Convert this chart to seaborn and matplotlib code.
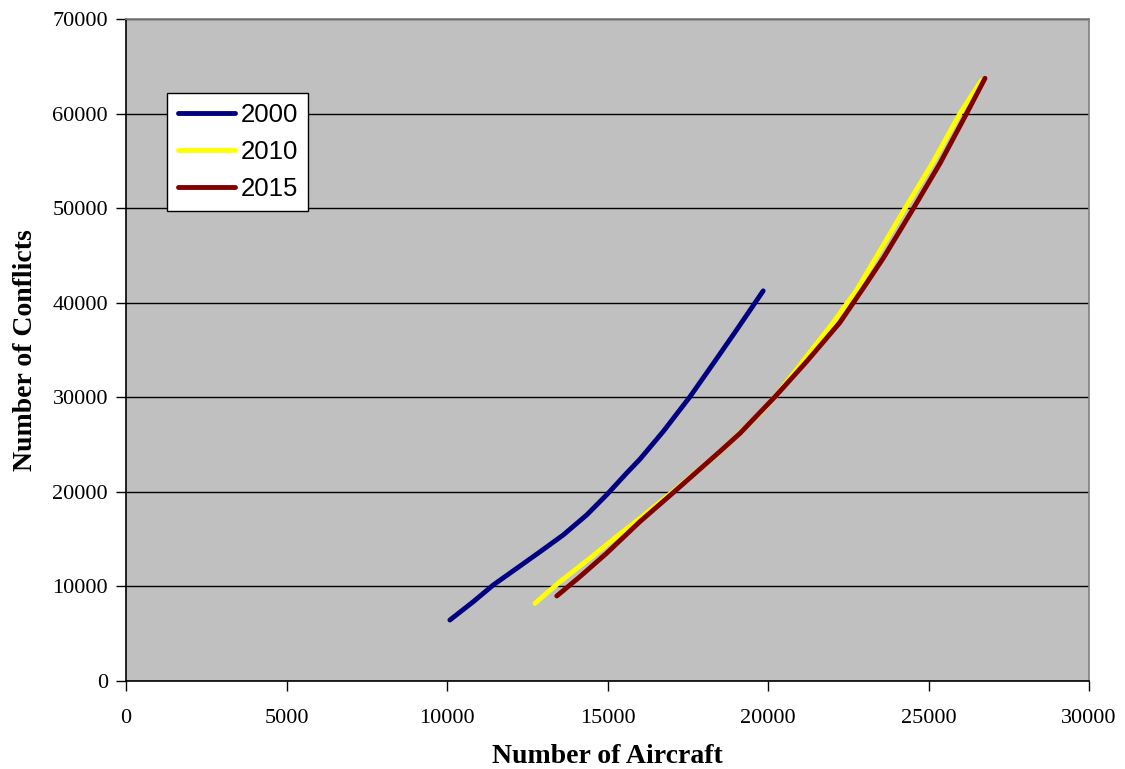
import matplotlib
matplotlib.use("Agg")
import matplotlib.pyplot as plt
import seaborn as sns
import pandas as pd

# Conflict counts against traffic volume for three forecast years
years = ["2000", "2010", "2015"]

aircraft_2000 = [10090, 10820, 11440, 12170, 12900, 13620, 14350, 14970, 15590, 16010,
                 16740, 17570, 18300, 19020, 19850]
conflicts_2000 = [6450, 8390, 10150, 11910, 13670, 15440, 17550, 19670, 21960, 23450,
                  26400, 30060, 33590, 37110, 41250]

aircraft_2010 = [12740, 13520, 14450, 15280, 16010, 17100, 18500, 19750, 20220, 21200,
                 22030, 22760, 23380, 24270, 25150, 25980, 26650]
conflicts_2010 = [8210, 10500, 12970, 15260, 17200, 20200, 24200, 28300, 30060, 34290,
                  37900, 41340, 44870, 49970, 54900, 60020, 63500]

aircraft_2015 = [13420, 14140, 14970, 16010, 16840, 18500, 19130, 20220, 21200, 22240,
                 23070, 23590, 24530, 25360, 26190, 26760]
conflicts_2015 = [8990, 11030, 13500, 16850, 19300, 24260, 26200, 30060, 33760, 37900,
                  42050, 44700, 49970, 54740, 60020, 63720]

colors = {"2000": "#000080", "2010": "#FFFF00", "2015": "#800000"}

x_ticks = [0, 5000, 10000, 15000, 20000, 25000, 30000]
y_ticks = [0, 10000, 20000, 30000, 40000, 50000, 60000, 70000]

frames = []
for yr, xs, ys in [("2000", aircraft_2000, conflicts_2000),
                   ("2010", aircraft_2010, conflicts_2010),
                   ("2015", aircraft_2015, conflicts_2015)]:
    frames.append(pd.DataFrame({"aircraft": xs, "conflicts": ys, "year": yr}))
df = pd.concat(frames, ignore_index=True)

sns.set_theme(style="white")
plt.rcParams["font.family"] = ["Liberation Serif", "DejaVu Serif"]
plt.rcParams["text.color"] = "black"
plt.rcParams["axes.labelcolor"] = "black"
plt.rcParams["xtick.color"] = "black"
plt.rcParams["ytick.color"] = "black"

fig = plt.figure(figsize=(11.25, 7.69), dpi=100)
ax = fig.add_axes([0.112, 0.1144, 0.856, 0.861])
ax.set_facecolor("#C0C0C0")

sns.lineplot(data=df, x="aircraft", y="conflicts", hue="year", hue_order=years,
             palette=colors, sort=False, estimator=None, linewidth=3.5,
             ax=ax, legend=True, solid_capstyle="round", solid_joinstyle="round")

ax.set_xlim(0, 30000)
ax.set_ylim(0, 70000)
ax.set_xticks(x_ticks)
ax.set_yticks(y_ticks)
ax.set_xticklabels([str(v) for v in x_ticks], fontsize=16)
ax.set_yticklabels([str(v) for v in y_ticks], fontsize=16)
ax.tick_params(axis="x", direction="out", length=7, width=1, pad=13, color="black", bottom=True)
ax.tick_params(axis="y", direction="out", length=7, width=1, pad=6, color="black", left=True)

ax.grid(axis="y", color="black", linewidth=1)
ax.set_axisbelow(True)

for side in ["top", "right"]:
    ax.spines[side].set_color("#808080")
    ax.spines[side].set_linewidth(1.2)
for side in ["left", "bottom"]:
    ax.spines[side].set_color("black")
    ax.spines[side].set_linewidth(1.2)

ax.set_xlabel("Number of Aircraft", fontsize=20, fontweight="bold", labelpad=12)
ax.set_ylabel("Number of Conflicts", fontsize=20, fontweight="bold", labelpad=10)

leg = ax.legend(loc="upper left", bbox_to_anchor=(0.043, 0.888), frameon=True,
                fancybox=False, framealpha=1.0,
                prop={"family": "Liberation Sans", "size": 18.5},
                handlelength=2.25, handletextpad=0.2, borderpad=0.4,
                labelspacing=0.5, borderaxespad=0)
leg.get_frame().set_facecolor("white")
leg.get_frame().set_edgecolor("black")
leg.get_frame().set_linewidth(1.0)
for text in leg.get_texts():
    text.set_color("black")
for line in leg.get_lines():
    line.set_linewidth(3.5)
    line.set_solid_capstyle("round")

fig.savefig("out.png", dpi=100, facecolor="white")
